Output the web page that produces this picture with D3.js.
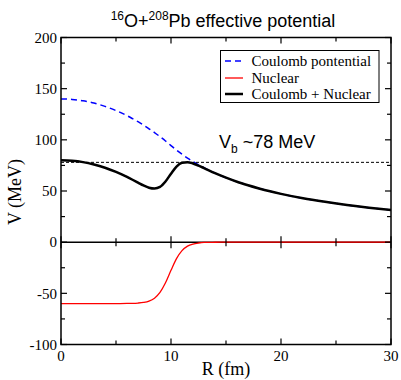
<!DOCTYPE html>
<html><head><meta charset="utf-8">
<script src="https://cdn.jsdelivr.net/npm/d3@7"></script>
<style>body{margin:0;background:#fff}svg{display:block}</style>
</head><body><svg id="c" width="401" height="380"></svg>
<script>
// Data
const rCoul = [0,1,2,3,4,5,6,6.5,7,7.5,8,8.5,9,9.5,10,10.5,11,11.5,12,12.5,13,14,15,16,17,18,19,20,22,24,26,28,30];
const vCoul = [140.0,139.5,138.2,135.9,132.7,128.6,123.6,120.7,117.7,114.4,110.8,107.1,103.1,98.9,94.4,90.0,85.9,82.1,78.7,75.6,72.7,67.5,63.0,59.0,55.6,52.5,49.7,47.2,42.9,39.4,36.3,33.7,31.5];
const vNuc  = [-60.0,-60.0,-60.0,-60.0,-60.0,-60.0,-59.9,-59.8,-59.5,-58.9,-57.6,-54.7,-49.1,-39.7,-27.5,-16.1,-8.3,-3.9,-1.8,-0.8,-0.3,-0.1,0,0,0,0,0,0,0,0,0,0,0];
const vTot  = [80.0,79.5,78.2,75.9,72.7,68.6,63.7,61.0,58.2,55.4,53.2,52.4,54.0,59.3,66.9,73.9,77.6,78.2,76.9,74.8,72.4,67.4,63.0,59.0,55.6,52.5,49.7,47.2,42.9,39.4,36.3,33.7,31.5];
const vBarrier = 78;
const xMajor = [0,10,20,30], xMinor = [5,15,25];
const yMajor = [-100,-50,0,50,100,150,200], yMinor = [-75,-25,25,75,125,175];
const legendLabels = ["Coulomb pontential","Nuclear","Coulomb + Nuclear"];

const svg = d3.select("#c");
const L=61, R=391, T=37.5, B=344.5;
const x = d3.scaleLinear().domain([0,30]).range([L,R]);
const y = d3.scaleLinear().domain([-100,200]).range([B,T]);
const serif = "'Liberation Serif','Times New Roman',serif";
const sans = "'Liberation Sans',Arial,sans-serif";

// curves
const line = (vals)=>d3.line().x((d,i)=>x(rCoul[i])).y(d=>y(d)).curve(d3.curveMonotoneX)(vals);
svg.append("path").attr("d",line(vCoul)).attr("fill","none").attr("stroke","#0000ff").attr("stroke-width",1.5).attr("stroke-dasharray","6,4");
// barrier dashed line
svg.append("line").attr("x1",x(0)).attr("x2",x(30)).attr("y1",y(vBarrier)).attr("y2",y(vBarrier))
  .attr("stroke","#000").attr("stroke-width",1).attr("stroke-dasharray","3,2");
// zero line (panel boundary)
svg.append("line").attr("x1",L).attr("x2",R).attr("y1",y(0)).attr("y2",y(0)).attr("stroke","#000").attr("stroke-width",1.5);
svg.append("path").attr("d",line(vNuc)).attr("fill","none").attr("stroke","#ff0000").attr("stroke-width",1.3);
svg.append("path").attr("d",line(vTot)).attr("fill","none").attr("stroke","#000").attr("stroke-width",2.5);

// frame
svg.append("rect").attr("x",L).attr("y",T).attr("width",R-L).attr("height",B-T).attr("fill","none").attr("stroke","#000").attr("stroke-width",1.5);

// ticks
const tk = svg.append("g").attr("stroke","#000").attr("stroke-width",1.2);
const MJ=6, MN=4;
xMajor.concat(xMinor).forEach(v=>{
  const len = xMajor.includes(v)?MJ:MN;
  tk.append("line").attr("x1",x(v)).attr("x2",x(v)).attr("y1",B).attr("y2",B-len);
  tk.append("line").attr("x1",x(v)).attr("x2",x(v)).attr("y1",T).attr("y2",T+len);
  tk.append("line").attr("x1",x(v)).attr("x2",x(v)).attr("y1",y(0)-len).attr("y2",y(0)+len);
});
yMajor.concat(yMinor).forEach(v=>{
  const len = yMajor.includes(v)?MJ:MN;
  tk.append("line").attr("x1",L).attr("x2",L+len).attr("y1",y(v)).attr("y2",y(v));
  tk.append("line").attr("x1",R).attr("x2",R-len).attr("y1",y(v)).attr("y2",y(v));
});

// tick labels
yMajor.forEach(v=>{
  svg.append("text").attr("x",L-4).attr("y",y(v)).attr("dy","0.35em").attr("text-anchor","end")
    .attr("font-family",serif).attr("font-size",15).text(v);
});
xMajor.forEach(v=>{
  svg.append("text").attr("x",x(v)).attr("y",B+16).attr("text-anchor","middle")
    .attr("font-family",serif).attr("font-size",15).text(v);
});

// axis labels
svg.append("text").attr("x",(L+R)/2).attr("y",375).attr("text-anchor","middle")
  .attr("font-family",serif).attr("font-size",18).text("R (fm)");
svg.append("text").attr("transform","translate(21,192) rotate(-90)").attr("text-anchor","middle")
  .attr("font-family",serif).attr("font-size",18).text("V (MeV)");

// title
const t = svg.append("text").attr("x",223).attr("y",27).attr("text-anchor","middle").attr("font-family",sans).attr("font-size",18);
t.append("tspan").attr("font-size",12).attr("dy",-7).text("16");
t.append("tspan").attr("dy",7).text("O+");
t.append("tspan").attr("font-size",12).attr("dy",-7).text("208");
t.append("tspan").attr("dy",7).text("Pb effective potential");

// barrier label
const vb = svg.append("text").attr("x",219).attr("y",148).attr("font-family",sans).attr("font-size",18);
vb.append("tspan").text("V");
vb.append("tspan").attr("font-size",12).attr("dy",5).text("b");
vb.append("tspan").attr("dy",-5).text(" ~78 MeV");

// legend
svg.append("rect").attr("x",220.5).attr("y",50.5).attr("width",158.5).attr("height",52).attr("fill","#fff").attr("stroke","#000").attr("stroke-width",1);
const legStyles=[{c:"#0000ff",w:1.5,d:"6,4"},{c:"#ff0000",w:1.3,d:null},{c:"#000",w:2.5,d:null}];
const rowY=[61,78,94];
legendLabels.forEach((lab,i)=>{
  svg.append("line").attr("x1",225).attr("x2",243).attr("y1",rowY[i]).attr("y2",rowY[i])
    .attr("stroke",legStyles[i].c).attr("stroke-width",legStyles[i].w).attr("stroke-dasharray",legStyles[i].d);
  svg.append("text").attr("x",251.5).attr("y",rowY[i]+5).attr("font-family",serif).attr("font-size",15).text(lab);
});
</script></body></html>
